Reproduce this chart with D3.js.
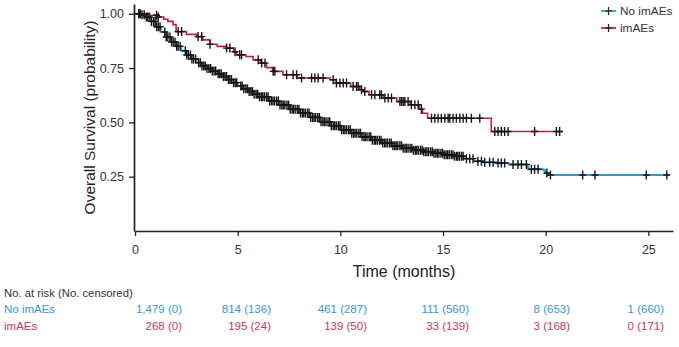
<!DOCTYPE html>
<html>
<head>
<meta charset="utf-8">
<script src="https://cdn.jsdelivr.net/npm/d3@7"></script>
<style>
  body { margin: 0; background: #fff; }
  svg { display: block; font-family: "Liberation Sans", Arial, sans-serif; }
</style>
</head>
<body>
<div id="chart"></div>
<script>
// Kaplan-Meier step points (time in months, survival)
const noImaeTimes = [0, 0.3, 0.5, 0.75, 1.0, 1.25, 1.5, 1.75, 2.0, 2.25, 2.5, 2.75, 3.0, 3.25, 3.5, 3.75, 4.0, 4.25, 4.5, 4.75,
  5.0, 5.25, 5.5, 5.75, 6.0, 6.5, 7.0, 7.5, 8.0, 8.5, 9.0, 9.5, 10.0, 10.5, 11.0, 11.5, 12.0, 12.5, 13.0, 13.5,
  14.0, 14.5, 15.0, 15.5, 16.0, 16.5, 17.0, 17.6, 18.2, 19.1, 19.15, 19.9, 19.97, 20.1, 26.0];
const noImaeSurv = [1, 0.995, 0.985, 0.965, 0.94, 0.916, 0.893, 0.87, 0.85, 0.83, 0.81, 0.792, 0.775, 0.76, 0.748, 0.736, 0.724, 0.711, 0.697, 0.683,
  0.668, 0.655, 0.642, 0.63, 0.618, 0.598, 0.58, 0.561, 0.543, 0.523, 0.503, 0.484, 0.466, 0.45, 0.434, 0.418, 0.405, 0.392, 0.381, 0.372,
  0.365, 0.358, 0.351, 0.344, 0.333, 0.321, 0.316, 0.313, 0.306, 0.296, 0.284, 0.28, 0.267, 0.258, 0.258];

const imaeTimes = [0, 0.7, 1.1, 1.4, 1.6, 1.85, 2.0, 2.5, 3.0, 3.3, 3.65, 4.0, 4.46, 4.8, 4.95, 5.4, 5.75, 6.1, 6.4, 6.7,
  7.2, 7.9, 9.5, 9.8, 10.5, 10.95, 11.1, 11.4, 12.1, 12.75, 13.4, 13.85, 14.0, 14.25, 17.35, 20.8];
const imaeSurv = [1, 0.993, 0.985, 0.975, 0.965, 0.95, 0.918, 0.905, 0.895, 0.88, 0.86, 0.85, 0.842, 0.825, 0.811, 0.803, 0.788, 0.773, 0.752, 0.735,
  0.719, 0.704, 0.696, 0.681, 0.665, 0.65, 0.642, 0.627, 0.612, 0.596, 0.581, 0.561, 0.542, 0.519, 0.458, 0.458];

// censoring times (months)
const noImaeCensored = [0.18, 0.26, 0.34, 0.45, 0.55, 0.62, 0.7, 0.8, 0.9, 0.98, 1.06, 1.14, 1.22, 1.45, 1.52, 1.6, 1.7, 1.78, 1.86, 1.95,
  2.03, 2.1, 2.2, 2.45, 2.52, 2.6, 2.7, 2.77, 2.85, 2.95, 3.1, 3.18, 3.26, 3.35, 3.42, 3.5, 3.6, 3.68, 3.76, 3.85,
  3.93, 4.05, 4.12, 4.2, 4.3, 4.38, 4.46, 4.55, 4.62, 4.7, 4.8, 4.88, 4.95, 5.15, 5.22, 5.3, 5.4, 5.48, 5.56, 5.65,
  5.72, 5.8, 5.9, 5.98, 6.06, 6.15, 6.22, 6.3, 6.4, 6.48, 6.56, 6.65, 6.72, 6.8, 6.9, 6.98, 7.06, 7.15, 7.22, 7.3,
  7.4, 7.48, 7.56, 7.65, 7.72, 7.8, 7.9, 7.98, 8.06, 8.15, 8.22, 8.3, 8.4, 8.48, 8.56, 8.65, 8.72, 8.8, 8.9, 8.98,
  9.06, 9.15, 9.22, 9.3, 9.4, 9.48, 9.56, 9.65, 9.72, 9.8, 9.9, 9.98, 10.06, 10.15, 10.22, 10.3, 10.4, 10.48, 10.56, 10.65,
  10.72, 10.8, 10.9, 10.98, 11.06, 11.15, 11.22, 11.3, 11.4, 11.48, 11.56, 11.65, 11.72, 11.8, 11.9, 11.98, 12.06, 12.15, 12.22, 12.3,
  12.4, 12.48, 12.56, 12.65, 12.72, 12.8, 12.9, 12.98, 13.06, 13.15, 13.22, 13.3, 13.4, 13.48, 13.56, 13.65, 13.72, 13.8, 13.9, 13.98,
  14.06, 14.15, 14.22, 14.3, 14.4, 14.48, 14.56, 14.65, 14.72, 14.8, 14.9, 14.98, 15.06, 15.15, 15.22, 15.3, 15.4, 15.48, 15.56, 15.65,
  15.72, 15.8, 15.9, 15.98, 16.14, 16.3, 16.46, 16.7, 16.87, 17.03, 17.27, 17.44, 17.68, 17.84, 18.0, 18.41, 18.65, 18.82, 19.06, 19.3,
  19.46, 19.63, 20.06, 20.23, 21.8, 22.4, 24.9, 25.9];
const imaeCensored = [0.24, 1.05, 1.13, 2.1, 2.27, 3.07, 3.25, 3.65, 4.46, 4.62, 4.87, 5.1, 5.19, 6.0, 6.17, 6.33, 6.73, 6.81, 7.38, 7.7,
  7.87, 8.11, 8.6, 8.76, 8.92, 9.16, 9.65, 9.81, 9.98, 10.14, 10.3, 10.62, 10.79, 10.87, 11.03, 11.19, 11.52, 11.68, 11.92, 12.0,
  12.17, 12.33, 12.49, 12.9, 12.98, 13.06, 13.14, 13.3, 13.46, 13.63, 13.79, 13.95, 14.44, 14.6, 14.76, 14.92, 15.09, 15.25, 15.33, 15.49,
  15.65, 15.82, 15.98, 16.14, 16.38, 16.79, 17.52, 17.68, 17.84, 18.0, 18.17, 19.46, 20.52, 20.68];

const groupNames = ["No imAEs", "imAEs"];
const groupColors = ["#2a9bcc", "#c41f44"];
const textColors = ["#3598cc", "#c23a55"];

// risk table
const riskTimes = [0, 5, 10, 15, 20, 25];
const riskNoImae = ["1,479 (0)", "814 (136)", "461 (287)", "111 (560)", "8 (653)", "1 (660)"];
const riskImae = ["268 (0)", "195 (24)", "139 (50)", "33 (139)", "3 (168)", "0 (171)"];

const xTicks = [0, 5, 10, 15, 20, 25];
const yTicks = [0.25, 0.5, 0.75, 1.0];

const width = 679, height = 347;
const svg = d3.select("#chart").append("svg")
  .attr("width", width)
  .attr("height", height);

const x = d3.scaleLinear().domain([0, 26.2]).range([135, 673]);
const y = d3.scaleLinear().domain([0, 1.045]).range([231, 4]);

// axes
const xAxis = svg.append("g")
  .attr("transform", `translate(0,${y(0)})`)
  .call(d3.axisBottom(x).tickValues(xTicks).tickSize(5).tickPadding(9).tickSizeOuter(0));
const yAxis = svg.append("g")
  .attr("transform", `translate(${x(0) - 1},0)`)
  .call(d3.axisLeft(y).tickValues(yTicks).tickFormat(d3.format(".2f")).tickSize(5).tickPadding(5).tickSizeOuter(0));

[xAxis, yAxis].forEach(ax => {
  ax.select(".domain").attr("stroke", "#222").attr("stroke-width", 1.7);
  ax.selectAll(".tick line").attr("stroke", "#222").attr("stroke-width", 1.3);
  ax.selectAll(".tick text")
    .attr("fill", "#333")
    .attr("font-size", "12.5px")
    .attr("font-family", "'Liberation Sans', Arial, sans-serif");
});

// axis titles
svg.append("text")
  .attr("x", (x(0) + x(26.2)) / 2)
  .attr("y", 277)
  .attr("text-anchor", "middle")
  .attr("font-size", "16px")
  .attr("fill", "#222")
  .text("Time (months)");

svg.append("text")
  .attr("transform", `translate(95,${(y(0) + y(1.045)) / 2}) rotate(-90)`)
  .attr("text-anchor", "middle")
  .attr("font-size", "15.5px")
  .attr("fill", "#222")
  .text("Overall Survival (probability)");

// curves
const groups = [
  { times: noImaeTimes, surv: noImaeSurv, censored: noImaeCensored },
  { times: imaeTimes, surv: imaeSurv, censored: imaeCensored }
];

const line = d3.line()
  .x(d => x(d[0]))
  .y(d => y(d[1]))
  .curve(d3.curveStepAfter);

const bisect = d3.bisector(d => d).right;
const survAt = (g, t) => g.surv[Math.max(0, bisect(g.times, t) - 1)];

groups.forEach((g, i) => {
  const pts = g.times.map((t, k) => [t, g.surv[k]]);
  svg.append("path")
    .datum(pts)
    .attr("fill", "none")
    .attr("stroke", groupColors[i])
    .attr("stroke-width", i === 0 ? 2 : 1.6)
    .attr("d", line);
});

// censor marks
groups.forEach(g => {
  svg.append("g")
    .selectAll("path")
    .data(g.censored)
    .join("path")
    .attr("d", t => {
      const cx = x(t), cy = y(survAt(g, t));
      return `M${cx - 3.5},${cy}h7M${cx},${cy - 4.5}v9`;
    })
    .attr("stroke", "#151515")
    .attr("stroke-width", 1.4)
    .attr("fill", "none");
});

// legend
const legend = svg.append("g");
groupNames.forEach((name, i) => {
  const ly = 11 + i * 17;
  legend.append("line")
    .attr("x1", 601).attr("x2", 616)
    .attr("y1", ly).attr("y2", ly)
    .attr("stroke", groupColors[i])
    .attr("stroke-width", 1.8);
  legend.append("path")
    .attr("d", `M605,${ly}h7M608.5,${ly - 4}v8`)
    .attr("stroke", "#1e1e1e")
    .attr("stroke-width", 1.2);
  legend.append("text")
    .attr("x", 620)
    .attr("y", ly + 4)
    .attr("font-size", "11.8px")
    .attr("fill", "#333")
    .text(name);
});

// number at risk table
const riskRight = [182, 271, 367, 469, 570, 664];
svg.append("text")
  .attr("x", 4)
  .attr("y", 297)
  .attr("font-size", "11.3px")
  .attr("fill", "#333")
  .text("No. at risk (No. censored)");

[riskNoImae, riskImae].forEach((row, i) => {
  const ry = 313 + i * 17;
  svg.append("text")
    .attr("x", 4)
    .attr("y", ry)
    .attr("font-size", "11.5px")
    .attr("fill", textColors[i])
    .text(groupNames[i]);
  svg.append("g")
    .selectAll("text")
    .data(row)
    .join("text")
    .attr("x", (d, k) => riskRight[k])
    .attr("y", ry)
    .attr("text-anchor", "end")
    .attr("font-size", "11.5px")
    .attr("fill", textColors[i])
    .text(d => d);
});
</script>
</body>
</html>
